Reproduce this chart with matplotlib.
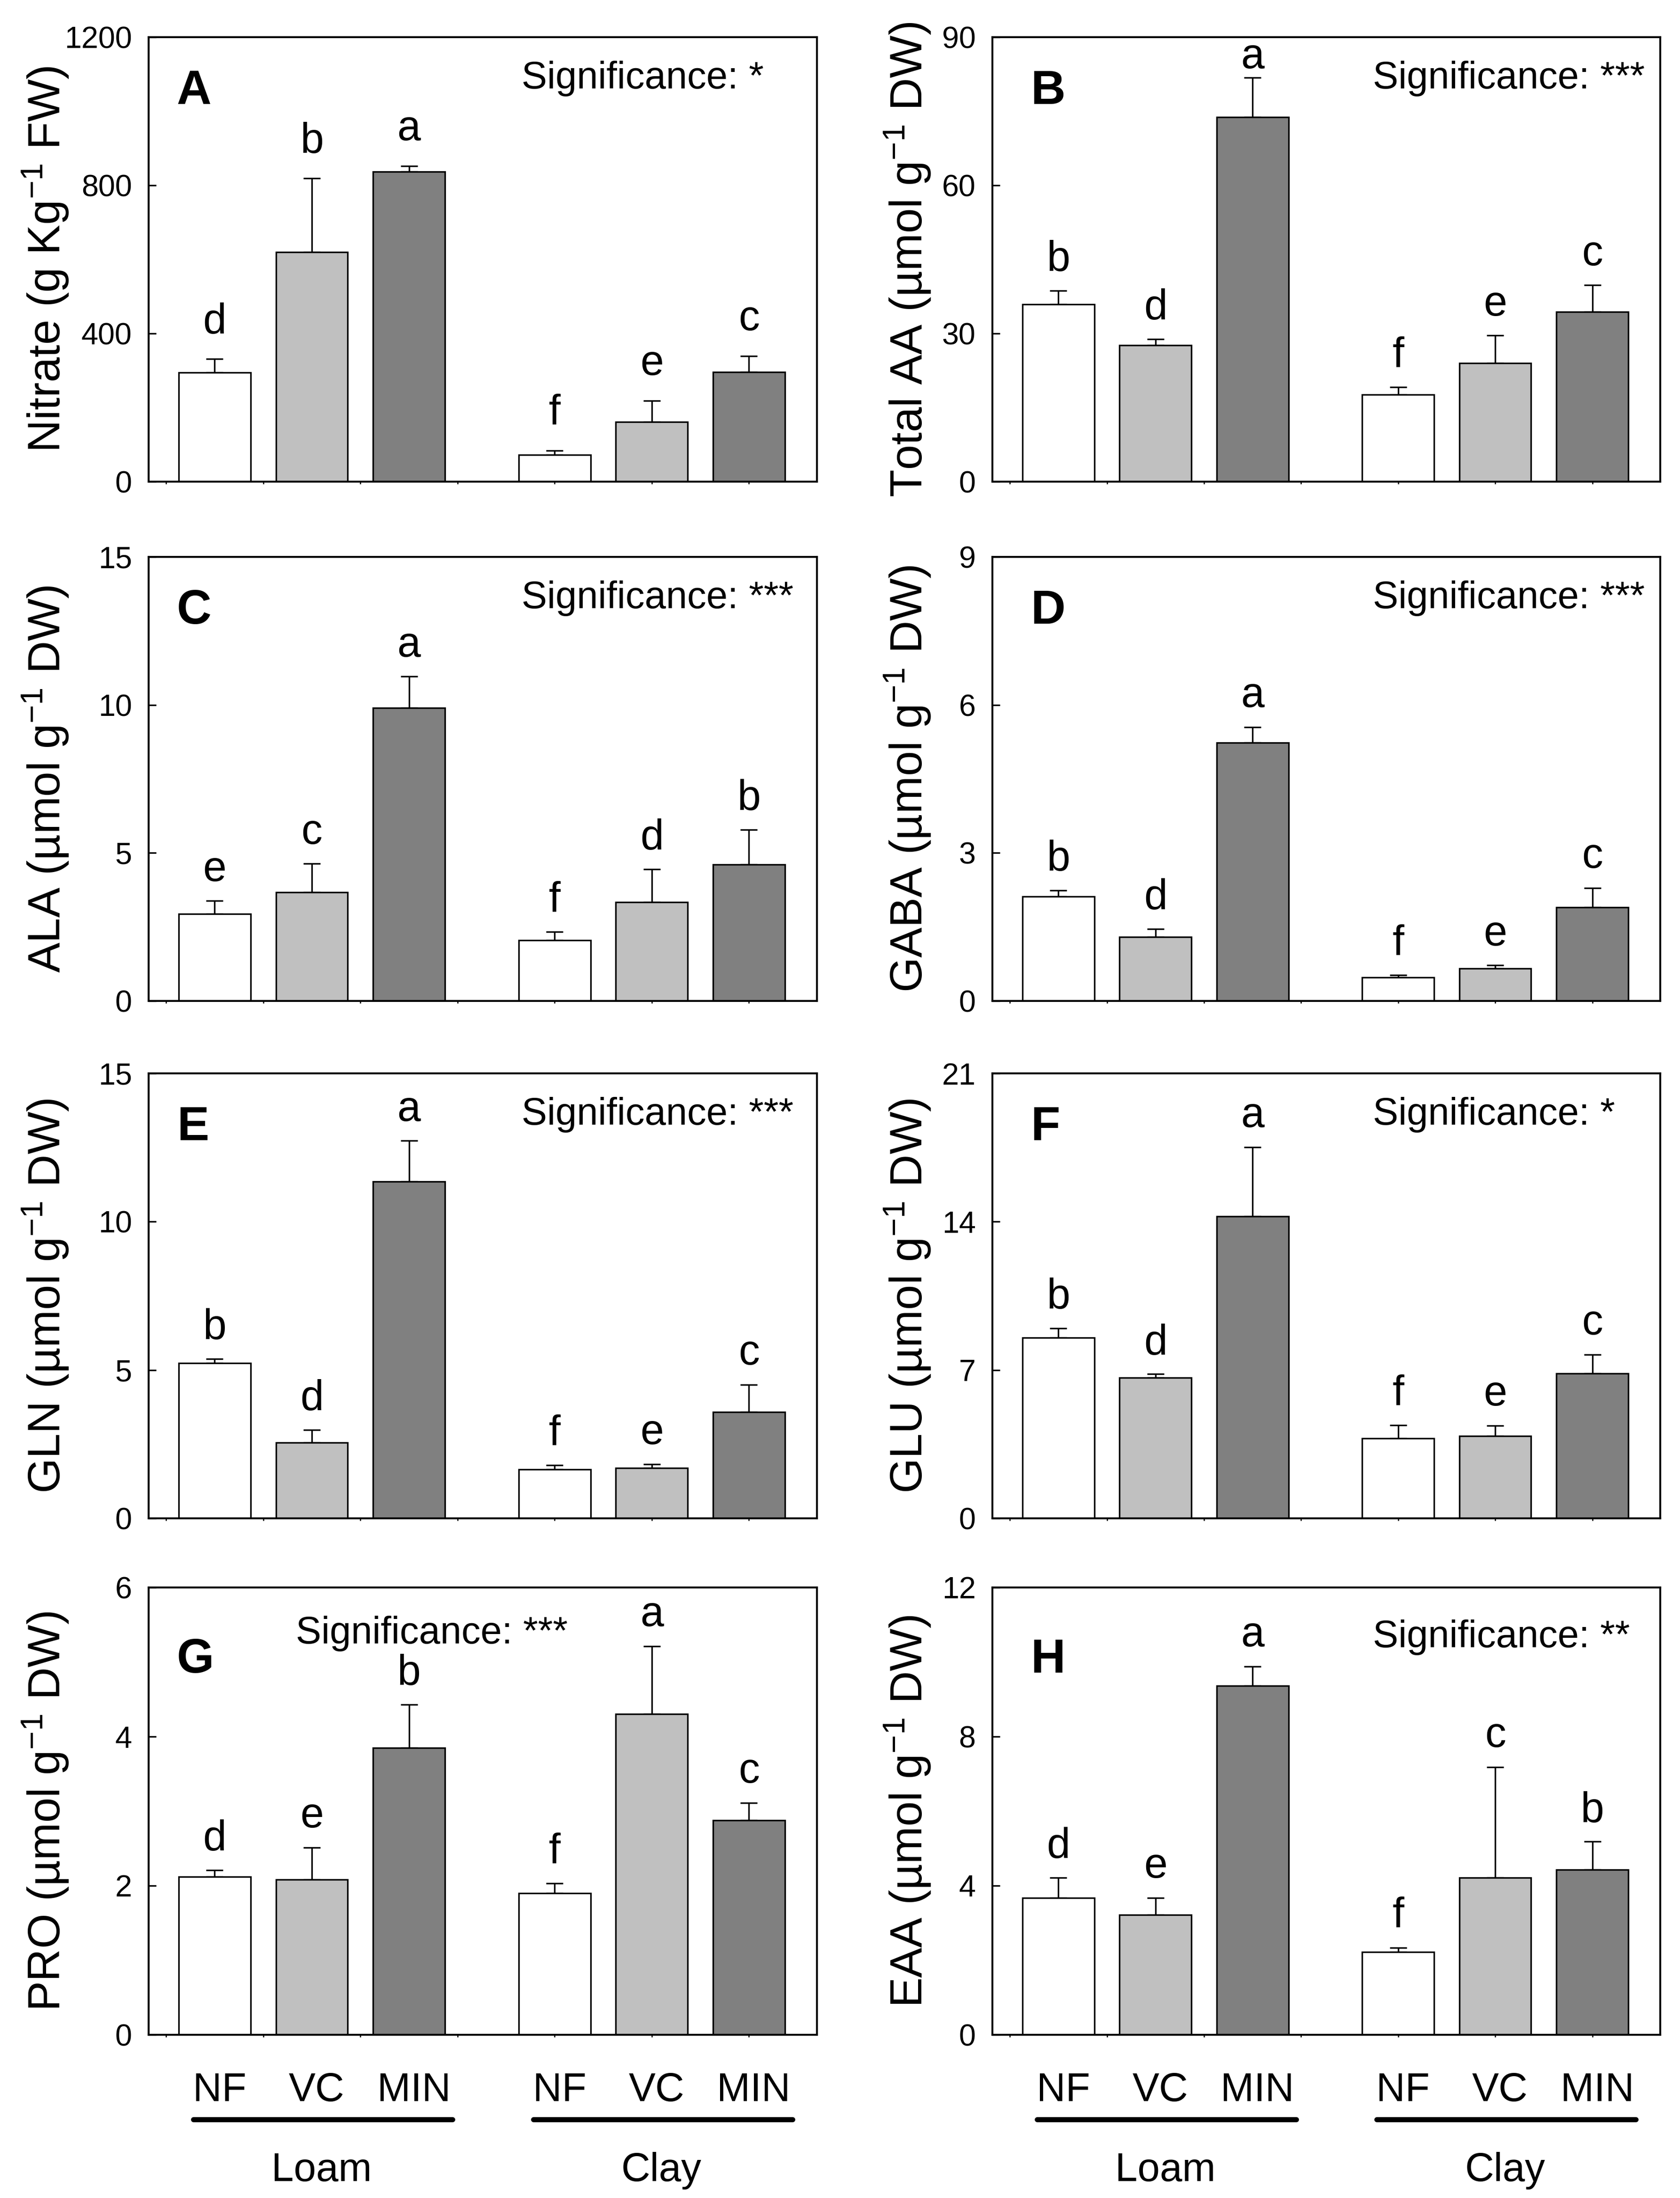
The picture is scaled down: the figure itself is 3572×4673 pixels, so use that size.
import matplotlib
matplotlib.use('Agg')
import matplotlib.pyplot as plt
from matplotlib.transforms import blended_transform_factory

plt.rcParams['font.family'] = ['Liberation Sans', 'DejaVu Sans']
plt.rcParams['mathtext.fontset'] = 'custom'
plt.rcParams['mathtext.rm'] = 'Liberation Sans'
plt.rcParams['mathtext.it'] = 'Liberation Sans:italic'
plt.rcParams['mathtext.bf'] = 'Liberation Sans:bold'
plt.rcParams['mathtext.default'] = 'regular'

# categories
treatments = ['NF', 'VC', 'MIN']
soils = ['Loam', 'Clay']
bar_colors = ['white', '#c0c0c0', '#808080']

# values: Loam NF, VC, MIN, Clay NF, VC, MIN
nitrate = [295, 620, 837, 73, 161, 296]
nitrate_err = [37, 199, 15, 11, 58, 43]
nitrate_letters = ['d', 'b', 'a', 'f', 'e', 'c']

total_aa = [35.9, 27.6, 73.8, 17.6, 24.0, 34.4]
total_aa_err = [2.8, 1.3, 8.0, 1.5, 5.6, 5.4]
total_aa_letters = ['b', 'd', 'a', 'f', 'e', 'c']

ala = [2.94, 3.67, 9.90, 2.05, 3.33, 4.61]
ala_err = [0.44, 0.97, 1.06, 0.28, 1.12, 1.18]
ala_letters = ['e', 'c', 'a', 'f', 'd', 'b']

gaba = [2.12, 1.30, 5.23, 0.48, 0.66, 1.90]
gaba_err = [0.12, 0.16, 0.32, 0.04, 0.06, 0.39]
gaba_letters = ['b', 'd', 'a', 'f', 'e', 'c']

gln = [5.23, 2.55, 11.35, 1.65, 1.70, 3.58]
gln_err = [0.15, 0.43, 1.38, 0.14, 0.13, 0.93]
gln_letters = ['b', 'd', 'a', 'f', 'e', 'c']

glu = [8.52, 6.63, 14.25, 3.77, 3.88, 6.83]
glu_err = [0.45, 0.18, 3.27, 0.62, 0.50, 0.90]
glu_letters = ['b', 'd', 'a', 'f', 'e', 'c']

pro = [2.12, 2.08, 3.85, 1.90, 4.30, 2.88]
pro_err = [0.09, 0.43, 0.58, 0.13, 0.91, 0.23]
pro_letters = ['d', 'e', 'b', 'f', 'a', 'c']

eaa = [3.67, 3.22, 9.36, 2.22, 4.21, 4.43]
eaa_err = [0.54, 0.45, 0.52, 0.12, 2.97, 0.75]
eaa_letters = ['d', 'e', 'a', 'f', 'c', 'b']

# (panel, values, errors, letters, ylabel, y max, tick step, significance)
panels = [
    ('A', nitrate, nitrate_err, nitrate_letters, 'Nitrate (g Kg$^{-1}$ FW)', 1200, 400, '*'),
    ('B', total_aa, total_aa_err, total_aa_letters, 'Total AA (µmol g$^{-1}$ DW)', 90, 30, '***'),
    ('C', ala, ala_err, ala_letters, 'ALA (µmol g$^{-1}$ DW)', 15, 5, '***'),
    ('D', gaba, gaba_err, gaba_letters, 'GABA (µmol g$^{-1}$ DW)', 9, 3, '***'),
    ('E', gln, gln_err, gln_letters, 'GLN (µmol g$^{-1}$ DW)', 15, 5, '***'),
    ('F', glu, glu_err, glu_letters, 'GLU (µmol g$^{-1}$ DW)', 21, 7, '*'),
    ('G', pro, pro_err, pro_letters, 'PRO (µmol g$^{-1}$ DW)', 6, 2, '***'),
    ('H', eaa, eaa_err, eaa_letters, 'EAA (µmol g$^{-1}$ DW)', 12, 4, '**'),
]

xpos = [0, 1, 2, 3.5, 4.5, 5.5]
group_start = [0, 3.5]

W, H = 3572, 4673
col_left = [316, 2110]
col_right = [1737, 3530]
row_top = [79, 1184, 2282, 3375]
row_bottom = [1024, 2128, 3228, 4326]

fig = plt.figure(figsize=(W / 300, H / 300), dpi=300)

for i, (tag, vals, errs, letters, ylabel, ymax, step, sig) in enumerate(panels):
    r, c = divmod(i, 2)
    l, rt = col_left[c], col_right[c]
    t, b = row_top[r], row_bottom[r]
    ax = fig.add_axes([l / W, 1 - b / H, (rt - l) / W, (b - t) / H])

    ax.bar(xpos, vals, width=0.74, color=bar_colors * 2, edgecolor='black',
           linewidth=0.8, zorder=2)
    ax.errorbar(xpos, vals, yerr=[[0] * 6, errs], fmt='none', ecolor='black',
                elinewidth=0.8, capsize=4.3, capthick=0.8, zorder=1)

    # significance letters above the error bars
    off = 0.058 if tag == 'A' else 0.045
    for x, v, e, lt in zip(xpos, vals, errs, letters):
        y = min(v + e + off * ymax, 0.93 * ymax)
        ax.text(x, y, lt, ha='center', va='baseline', fontsize=21.5)

    ax.set_xlim(-0.68, 6.2)
    ax.set_ylim(0, ymax)
    ax.set_yticks(range(0, ymax + 1, step))
    ax.set_xticks([])
    ax.set_xticks([-0.5, 0.5, 1.5, 2.5, 3.5, 4.5, 5.5], minor=True)
    ax.tick_params(axis='y', direction='in', length=3.8, width=0.8,
                   labelsize=15.5, pad=8.5)
    ax.tick_params(axis='x', which='minor', direction='out', length=1.2, width=0.6)
    for s in ax.spines.values():
        s.set_linewidth(1.0)

    ax.set_ylabel(ylabel, fontsize=23, va='center')
    ax.yaxis.set_label_coords(-0.154 if c == 0 else -0.127, 0.5)

    if r < 3:
        ax.text(0.042 if c == 0 else 0.057, 0.85, tag, transform=ax.transAxes,
                fontsize=24.5, fontweight='bold', va='baseline')
        ax.text(0.558 if c == 0 else 0.57, 0.885, 'Significance: ' + sig,
                transform=ax.transAxes, fontsize=19.5, va='baseline')
    else:
        ax.text(0.042 if c == 0 else 0.057, 0.81, tag, transform=ax.transAxes,
                fontsize=24.5, fontweight='bold', va='baseline')
        if c == 0:
            ax.text(0.22, 0.875, 'Significance: ' + sig,
                    transform=ax.transAxes, fontsize=19.5, va='baseline')
        else:
            ax.text(0.57, 0.866, 'Significance: ' + sig,
                    transform=ax.transAxes, fontsize=19.5, va='baseline')

        # treatment labels, soil underline and soil names
        trans = blended_transform_factory(ax.transData, ax.transAxes)
        for g, soil in zip(group_start, soils):
            for k, tr in enumerate(treatments):
                ax.text(g + k + 0.05, -0.148, tr, transform=trans, ha='center',
                        va='baseline', fontsize=20.5, clip_on=False)
            ax.plot([g - 0.22, g + 2.45], [-0.189, -0.189], transform=trans,
                    color='black', lw=2.6, solid_capstyle='round', clip_on=False)
            ax.text(g + 1.1, -0.327, soil, transform=trans, ha='center',
                    va='baseline', fontsize=20.5, clip_on=False)

fig.savefig('out.png', dpi=300, facecolor='white')
